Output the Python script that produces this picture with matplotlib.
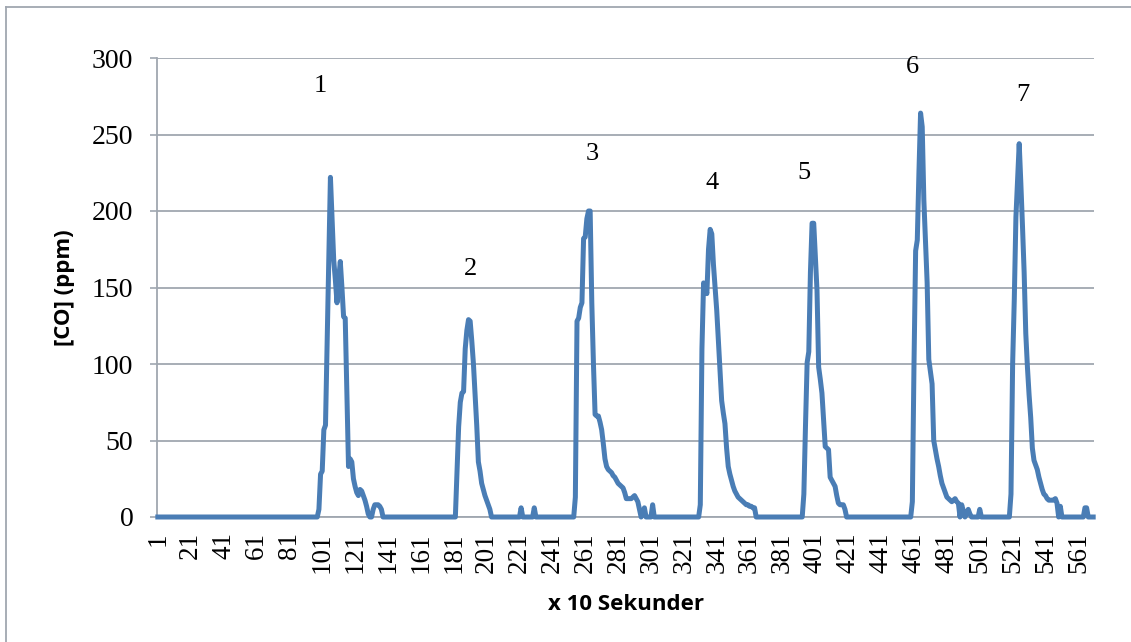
import numpy as np
import matplotlib
matplotlib.use("Agg")
import matplotlib.pyplot as plt
from matplotlib.lines import Line2D

# ---- data ----
n_points = 570

peak1_start = 98
peak1 = [0, 5, 28, 30, 57, 60, 115, 170, 222, 195, 168, 155, 140, 155, 167, 150,
         131, 130, 80, 33, 38, 36, 25, 20, 16, 14, 18, 17, 14, 11, 7, 2, 0, 0,
         5, 8, 8, 8, 7, 5, 0]

peak2_start = 182
peak2 = [0, 30, 59, 75, 81, 82, 110, 122, 129, 128, 115, 100, 80, 60, 36, 30,
         22, 18, 14, 11, 8, 5, 0]

peak3_start = 254
peak3 = [0, 13, 128, 130, 137, 140, 182, 183, 195, 200, 200, 140, 100, 67, 66,
         66, 62, 57, 48, 38, 33, 31, 30, 29, 27, 26, 24, 22, 21, 20, 19, 16, 12,
         12, 12, 12, 13, 14, 12, 10, 5, 0, 3, 6, 0, 0, 0, 0, 8, 0]

peak4_start = 330
peak4 = [0, 8, 110, 153, 150, 146, 175, 188, 185, 165, 150, 135, 115, 95, 76,
         68, 61, 45, 33, 28, 24, 20, 17, 15, 13, 12, 11, 10, 9, 8, 8, 7, 7, 6,
         6, 0]

peak5_start = 393
peak5 = [0, 15, 60, 101, 108, 160, 192, 192, 170, 148, 98, 90, 81, 64, 46, 45,
         44, 26, 24, 22, 20, 14, 9, 8, 8, 8, 5, 0]

peak6_start = 459
peak6 = [0, 10, 100, 174, 181, 225, 264, 255, 207, 180, 153, 103, 95, 87, 50,
         44, 38, 33, 27, 22, 19, 16, 13, 12, 11, 10, 11, 12, 10, 9, 0, 8, 4, 0,
         2, 5, 2, 0, 0, 0, 0, 0, 5, 0]

peak7_start = 519
peak7 = [0, 15, 100, 142, 196, 220, 244, 218, 190, 160, 120, 98, 80, 65, 45,
         37, 34, 31, 26, 22, 18, 15, 14, 12, 11, 11, 11, 11, 12, 9, 0, 7, 0]

bumps_x = [222, 230, 565, 566]
bumps_y = [6, 6, 6, 6]

peak_labels = ["1", "2", "3", "4", "5", "6", "7"]
label_x = [100, 191, 265, 338, 394, 460, 527]
label_y = [282, 162, 237, 218, 225, 294, 276]

# ---- assemble series ----
co = np.zeros(n_points)
for start, vals in [(peak1_start, peak1), (peak2_start, peak2), (peak3_start, peak3),
                    (peak4_start, peak4), (peak5_start, peak5), (peak6_start, peak6),
                    (peak7_start, peak7)]:
    co[start - 1:start - 1 + len(vals)] = vals
for bx, by in zip(bumps_x, bumps_y):
    co[bx - 1] = by
x = np.arange(1, n_points + 1)

grid_col = "#A0A7B0"
serif = "Liberation Serif"

fig = plt.figure(figsize=(11.31, 6.42), dpi=100)
ax = fig.add_axes([157 / 1131, 1 - 517 / 642, (1094 - 157) / 1131, (517 - 58) / 642])

ax.plot(x, co, color="#4A7DB5", lw=3.6, solid_joinstyle="round", clip_on=False, zorder=3)

ax.set_xlim(0.5, n_points + 0.5)
ax.set_ylim(0, 300)
ax.set_yticks(np.arange(0, 301, 50))
ax.set_xticks(np.arange(1, n_points, 20))
ax.set_xticklabels([str(v) for v in np.arange(1, n_points, 20)], rotation=90,
                   fontfamily=serif, fontsize=19.5)
ax.tick_params(axis="x", length=0, pad=11)
ax.tick_params(axis="y", length=5, width=1.2, color=grid_col, pad=12,
               labelsize=20)
for lab in ax.get_yticklabels():
    lab.set_fontfamily(serif)

ax.grid(axis="y", color=grid_col, lw=1.3)
ax.set_axisbelow(True)
for side in ["top", "right"]:
    ax.spines[side].set_visible(False)
for side in ["left", "bottom"]:
    ax.spines[side].set_color(grid_col)
    ax.spines[side].set_linewidth(1.3)

ax.set_xlabel("x 10 Sekunder", fontfamily="Open Sans", fontweight="bold",
              fontsize=16, labelpad=15)
ax.set_ylabel("[CO] (ppm)", fontfamily="Open Sans", fontweight="bold",
              fontsize=16, labelpad=12)

for t, tx, ty in zip(peak_labels, label_x, label_y):
    ax.text(tx, ty, t, ha="center", va="center", fontfamily=serif, fontsize=19)

# chart-area border like the spreadsheet export
fig.add_artist(Line2D([6 / 1131, 1], [1 - 7 / 642, 1 - 7 / 642],
                      transform=fig.transFigure, color=grid_col, lw=1.3))
fig.add_artist(Line2D([6 / 1131, 6 / 1131], [0, 1 - 7 / 642],
                      transform=fig.transFigure, color=grid_col, lw=1.3))

fig.savefig("out.png", dpi=100)
